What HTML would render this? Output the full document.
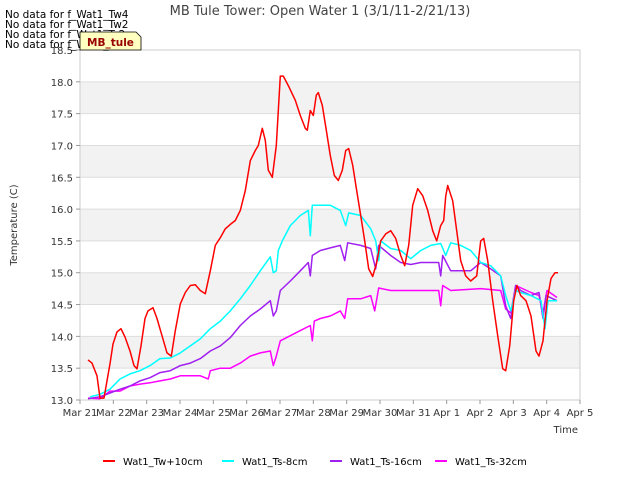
<!DOCTYPE html>
<html><head><meta charset="utf-8"><style>
body{margin:0;background:#fff;font-family:"Liberation Sans","DejaVu Sans",sans-serif;}
svg text{font-family:"DejaVu Sans","Liberation Sans",sans-serif;}
</style></head><body>
<svg id="chart" width="640" height="480" xmlns="http://www.w3.org/2000/svg">
<rect width="640" height="480" fill="#fff"/>
<g id="bands"></g><g id="grid"></g>
<rect x="80" y="50" width="500" height="350" fill="none" stroke="#ccc"/>
<g id="axes"></g><g id="series"></g>
<text x="320" y="15" text-anchor="middle" font-size="13" fill="#444">MB Tule Tower: Open Water 1 (3/1/11-2/21/13)</text>
<text transform="translate(17,225) rotate(-90)" text-anchor="middle" font-size="10" fill="#333">Temperature (C)</text>
<text x="578" y="433" text-anchor="end" font-size="10" fill="#333">Time</text>
<g font-size="10.5" fill="#000">
<text x="5" y="18">No data for f_Wat1_Tw4</text>
<text x="5" y="28">No data for f_Wat1_Tw2</text>
<text x="5" y="38">No data for f_Wat1_Ts2</text>
<text x="5" y="48">No data for f_Wat1_Ts4</text>
</g>
<g>
<path d="M80,32 L136,32 L141,37 L141,50 L80,50 Z" fill="#ffffc0" stroke="#000" stroke-width="0.8"/>
<text x="87" y="46" font-size="10.5" font-weight="bold" fill="#990000">MB_tule</text>
</g>
<g id="legend"></g>
</svg>
<script>
const yTicks=[13.0,13.5,14.0,14.5,15.0,15.5,16.0,16.5,17.0,17.5,18.0,18.5];
const xTickLabels=["Mar 21","Mar 22","Mar 23","Mar 24","Mar 25","Mar 26","Mar 27","Mar 28","Mar 29","Mar 30","Mar 31","Apr 1","Apr 2","Apr 3","Apr 4","Apr 5"];
const seriesNames=["Wat1_Tw+10cm","Wat1_Ts-8cm","Wat1_Ts-16cm","Wat1_Ts-32cm"];
const seriesColors=["#ff0000","#00ffff","#a020f0","#ff00ff"];
const twDays=[0.24,0.36,0.51,0.60,0.72,0.81,0.90,0.99,1.11,1.23,1.35,1.50,1.62,1.71,1.83,1.95,2.04,2.19,2.31,2.46,2.61,2.74,2.86,3.01,3.16,3.31,3.46,3.61,3.76,3.91,4.06,4.21,4.36,4.51,4.66,4.81,4.96,5.11,5.26,5.35,5.47,5.56,5.65,5.77,5.89,6.01,6.10,6.25,6.46,6.61,6.76,6.82,6.91,7.00,7.09,7.15,7.27,7.39,7.51,7.63,7.75,7.87,7.97,8.06,8.18,8.30,8.42,8.54,8.66,8.78,8.90,9.02,9.17,9.32,9.47,9.62,9.74,9.86,9.98,10.13,10.28,10.43,10.58,10.70,10.82,10.91,10.97,11.03,11.18,11.30,11.42,11.57,11.72,11.90,12.02,12.11,12.23,12.38,12.53,12.68,12.77,12.89,13.01,13.11,13.22,13.38,13.53,13.68,13.77,13.89,14.01,14.13,14.25,14.34];
const twVals=[13.63,13.58,13.38,13.03,13.03,13.30,13.57,13.88,14.07,14.12,13.99,13.77,13.54,13.49,13.85,14.28,14.40,14.45,14.28,14.01,13.74,13.69,14.09,14.51,14.69,14.80,14.81,14.72,14.67,15.03,15.43,15.55,15.69,15.76,15.82,15.98,16.29,16.76,16.92,17.00,17.27,17.08,16.61,16.50,17.00,18.09,18.09,17.94,17.71,17.47,17.27,17.24,17.55,17.47,17.79,17.83,17.63,17.24,16.84,16.53,16.45,16.61,16.92,16.95,16.69,16.29,15.90,15.50,15.06,14.94,15.16,15.50,15.61,15.66,15.54,15.27,15.11,15.43,16.06,16.32,16.21,15.98,15.66,15.50,15.74,15.82,16.20,16.37,16.13,15.66,15.19,14.95,14.87,14.95,15.50,15.54,15.19,14.56,14.01,13.49,13.46,13.85,14.56,14.80,14.64,14.56,14.32,13.77,13.69,13.93,14.56,14.91,15.00,15.00];
const ts8Days=[0.30,0.60,0.90,1.20,1.50,1.80,2.10,2.40,2.71,3.01,3.31,3.61,3.91,4.21,4.51,4.81,5.11,5.41,5.71,5.80,5.89,5.95,6.07,6.31,6.61,6.85,6.91,6.97,7.21,7.51,7.81,7.97,8.06,8.42,8.72,8.87,8.96,9.02,9.32,9.62,9.92,10.22,10.52,10.82,10.97,11.12,11.42,11.72,12.02,12.32,12.62,12.77,12.92,13.07,13.22,13.53,13.83,13.95,14.04,14.31];
const ts8Vals=[13.05,13.09,13.17,13.33,13.41,13.46,13.54,13.65,13.66,13.74,13.85,13.96,14.12,14.24,14.40,14.59,14.80,15.03,15.25,15.00,15.03,15.35,15.50,15.74,15.90,15.98,15.58,16.06,16.06,16.06,15.98,15.74,15.94,15.90,15.69,15.50,15.19,15.50,15.38,15.35,15.22,15.35,15.43,15.46,15.27,15.47,15.43,15.35,15.16,15.11,14.95,14.64,14.40,14.72,14.69,14.64,14.56,14.12,14.56,14.56];
const ts16Days=[0.24,0.60,0.90,1.20,1.50,1.80,2.10,2.40,2.71,3.01,3.31,3.61,3.91,4.21,4.51,4.81,5.11,5.41,5.71,5.80,5.89,6.01,6.31,6.61,6.85,6.91,6.97,7.21,7.51,7.81,7.94,8.03,8.42,8.72,8.87,8.96,9.32,9.62,9.92,10.22,10.76,10.82,10.88,11.12,11.72,12.02,12.32,12.62,12.77,12.92,13.07,13.22,13.53,13.77,13.89,13.98,14.31];
const ts16Vals=[13.02,13.05,13.11,13.17,13.22,13.30,13.35,13.43,13.46,13.54,13.58,13.65,13.77,13.85,13.98,14.17,14.32,14.43,14.56,14.32,14.40,14.72,14.87,15.03,15.16,14.95,15.27,15.35,15.39,15.43,15.19,15.47,15.43,15.38,15.06,15.43,15.27,15.16,15.13,15.16,15.16,14.95,15.27,15.03,15.03,15.16,15.06,14.95,14.48,14.28,14.80,14.72,14.64,14.69,14.28,14.64,14.56];
const ts32Days=[0.24,0.60,0.90,1.20,1.50,1.80,2.10,2.40,2.71,3.01,3.61,3.85,3.91,4.21,4.51,4.81,5.11,5.41,5.71,5.80,5.89,6.01,6.31,6.61,6.91,6.97,7.03,7.21,7.51,7.81,7.94,8.03,8.42,8.72,8.84,8.96,9.32,10.76,10.82,10.88,11.12,12.02,12.62,12.77,12.92,13.07,13.53,13.77,13.89,14.01,14.31];
const ts32Vals=[13.03,13.02,13.14,13.14,13.22,13.25,13.27,13.30,13.33,13.38,13.38,13.33,13.46,13.50,13.50,13.58,13.69,13.74,13.77,13.54,13.69,13.93,14.01,14.09,14.17,13.93,14.24,14.28,14.32,14.40,14.28,14.59,14.59,14.64,14.40,14.76,14.72,14.72,14.48,14.80,14.72,14.75,14.72,14.43,14.37,14.80,14.69,14.64,14.37,14.72,14.61];

const NS="http://www.w3.org/2000/svg";
const X0=80,X1=580,Y0=400,Y1=50,YMIN=13,YMAX=18.5,DMAX=15;
function xs(d){return X0+(X1-X0)*d/DMAX;}
function ys(v){return Y0-(Y0-Y1)*(v-YMIN)/(YMAX-YMIN);}
function mk(tag,attrs,parent){const e=document.createElementNS(NS,tag);for(const k in attrs)e.setAttribute(k,attrs[k]);parent.appendChild(e);return e;}
const bands=document.getElementById('bands'),grid=document.getElementById('grid'),axes=document.getElementById('axes'),ser=document.getElementById('series'),leg=document.getElementById('legend');
for(let i=0;i<yTicks.length-1;i++){
  if(i%2===1){const r=mk('rect',{x:X0,y:ys(yTicks[i+1]),width:X1-X0,height:ys(yTicks[i])-ys(yTicks[i+1]),fill:'#f2f2f2'},bands);
  
  }
}
yTicks.forEach(v=>{
  const l=mk('line',{x1:X0,x2:X1,y1:ys(v),y2:ys(v),stroke:'#ddd'},grid);
  
  
  mk('line',{x1:X0-4,x2:X0,y1:ys(v),y2:ys(v),stroke:'#999'},axes);
  const t=mk('text',{x:X0-7,y:ys(v)+4,'text-anchor':'end','font-size':'10',fill:'#333'},axes);
  t.textContent=v.toFixed(1);
  
  
});
xTickLabels.forEach((s,i)=>{
  mk('line',{x1:xs(i),x2:xs(i),y1:Y0,y2:Y0+4,stroke:'#999'},axes);
  const t=mk('text',{x:xs(i),y:Y0+16,'text-anchor':'middle','font-size':'10',fill:'#333'},axes);
  t.textContent=s;
  
  
});
const allD=[twDays,ts8Days,ts16Days,ts32Days],allV=[twVals,ts8Vals,ts16Vals,ts32Vals];
for(let s=3;s>=0;s--){
  const pts=allD[s].map((d,i)=>xs(d).toFixed(1)+','+ys(allV[s][i]).toFixed(1)).join(' ');
  const p=mk('polyline',{points:pts,fill:'none',stroke:seriesColors[s],'stroke-width':'1.5','stroke-linejoin':'round'},ser);
  
  
}
const lx=[103,222,330,435];
seriesNames.forEach((n,i)=>{
  const g=mk('g',{},leg);
  
  
  mk('line',{x1:lx[i],x2:lx[i]+12,y1:461,y2:461,stroke:seriesColors[i],'stroke-width':'2'},g);
  const t=mk('text',{x:lx[i]+20,y:465,'font-size':'10',fill:'#000'},g);
  t.textContent=n;
});
</script>
</body></html>
